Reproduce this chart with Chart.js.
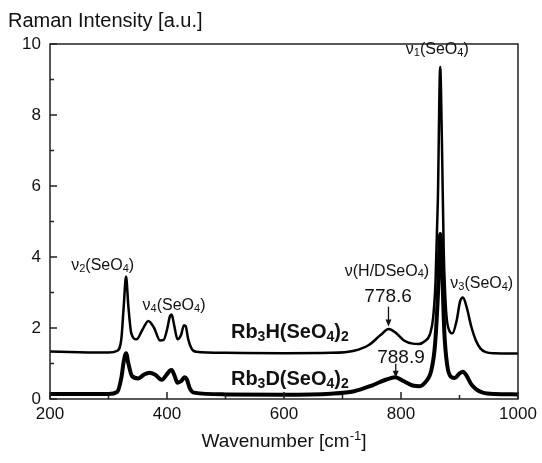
<!DOCTYPE html>
<html>
<head>
<meta charset="utf-8">
<script src="https://cdn.jsdelivr.net/npm/chart.js@4"></script>
<style>
html,body{margin:0;padding:0;background:#fff;}
#wrap{width:542px;height:463px;position:relative;}
</style>
</head>
<body>
<div id="wrap"><canvas id="c" width="542" height="463"></canvas></div>
<script>
// ---- data ----
const wnH = [200,250,300,315,322,326,330,334,339,348,358,368,378,388,394,400,405,408,412,418,424,429,432,436,442,450,500,600,680,720,745,765,779,790,805,820,830,840,850,855,859,863,867,870,873,877,882,888,895,901,906,912,920,928,936,945,960,1000];
const intH = [1.34,1.32,1.31,1.36,1.7,2.6,3.45,2.6,1.85,1.68,1.95,2.2,2.0,1.65,1.66,1.95,2.33,2.38,2.1,1.68,1.8,2.08,2.05,1.7,1.42,1.33,1.30,1.29,1.30,1.36,1.52,1.8,1.97,1.88,1.65,1.56,1.55,1.62,1.85,2.3,3.3,5.6,9.35,7.2,4.2,2.5,1.95,1.85,2.2,2.75,2.86,2.6,2.05,1.65,1.42,1.32,1.29,1.28];
const wnD = [200,300,315,322,326,330,334,340,351,360,370,380,391,400,405,408,413,418,424,430,434,439,446,500,600,680,720,750,775,790,805,820,832,842,852,858,863,867,870,874,879,885,892,900,906,912,920,928,940,960,1000];
const intD = [0.14,0.14,0.2,0.6,1.05,1.29,1.0,0.65,0.58,0.68,0.74,0.68,0.54,0.7,0.8,0.82,0.65,0.46,0.5,0.61,0.55,0.3,0.18,0.13,0.12,0.15,0.22,0.38,0.55,0.61,0.5,0.38,0.36,0.48,0.82,1.5,2.9,4.65,3.8,1.9,0.95,0.63,0.59,0.72,0.77,0.66,0.42,0.28,0.18,0.14,0.13];
const xTicks = [200,400,600,800,1000];
const yTicks = [0,2,4,6,8,10];
const seriesNames = ['Rb3H(SeO4)2','Rb3D(SeO4)2'];
const peakH = 778.6, peakD = 788.9;

// ---- annotation layout (positions in data units) ----
const FONT = '"Liberation Sans", Arial, Helvetica, sans-serif';
const notes = [
  {parts:[['ν'],['1',1],['(SeO'],['4',1],[')']], x:862, y:9.85, size:16},
  {parts:[['ν'],['2',1],['(SeO'],['4',1],[')']], x:290, y:3.75, size:16},
  {parts:[['ν'],['4',1],['(SeO'],['4',1],[')']], x:412, y:2.62, size:16},
  {parts:[['ν(H/DSeO'],['4',1],[')']], x:776, y:3.6, size:16},
  {parts:[['ν'],['3',1],['(SeO'],['4',1],[')']], x:938, y:3.25, size:16},
  {parts:[[String(peakH)]], x:778, y:2.88, size:19},
  {parts:[[String(peakD)]], x:800, y:1.15, size:19},
  {parts:[['Rb'],['3',1],['H(SeO'],['4',1],[')'],['2',1]], x:610, y:1.86, size:20, bold:true},
  {parts:[['Rb'],['3',1],['D(SeO'],['4',1],[')'],['2',1]], x:610, y:0.54, size:20, bold:true}
];
const arrows = [
  {x:peakH, y1:2.6, y2:2.04},
  {x:791, y1:0.99, y2:0.6}
];

function drawRich(ctx, parts, x, y, size, bold, align){
  const b = bold ? 'bold ' : '';
  const fs = p => (p[1] ? Math.round(size*0.7) : size);
  let total = 0;
  const w = parts.map(p=>{
    ctx.font = b + fs(p) + 'px ' + FONT;
    const m = ctx.measureText(p[0]).width; total += m; return m;
  });
  let cx = align==='left' ? x : x - total/2;
  ctx.textBaseline = 'middle'; ctx.textAlign = 'left';
  parts.forEach((p,i)=>{
    let dy = 0;
    if (p[1]===1) dy = size*0.2;
    if (p[1]===2) dy = -size*0.3;
    ctx.font = b + fs(p) + 'px ' + FONT;
    ctx.fillText(p[0], cx, y+dy);
    cx += w[i];
  });
}

const decor = {
  id:'decor',
  afterDatasetsDraw(chart){
    const ctx = chart.ctx, xs = chart.scales.x, ys = chart.scales.y, a = chart.chartArea;
    ctx.save();
    ctx.strokeStyle = '#222'; ctx.lineWidth = 1.5;
    ctx.strokeRect(a.left, a.top, a.right-a.left, a.bottom-a.top);
    ctx.beginPath();
    for (let v=200; v<=1000; v+=100){
      const px = xs.getPixelForValue(v);
      const L = (v%200===0) ? 7 : 4;
      ctx.moveTo(px, a.bottom); ctx.lineTo(px, a.bottom-L);
    }
    for (let v=0; v<=10; v+=1){
      const py = ys.getPixelForValue(v);
      const L = (v%2===0) ? 7 : 4;
      ctx.moveTo(a.left, py); ctx.lineTo(a.left+L, py);
    }
    ctx.stroke();
    ctx.fillStyle = '#111';
    notes.forEach(n=>{
      drawRich(ctx, n.parts, xs.getPixelForValue(n.x), ys.getPixelForValue(n.y), n.size, n.bold, 'center');
    });
    ctx.strokeStyle = '#111'; ctx.lineWidth = 1.3;
    arrows.forEach(ar=>{
      const px = xs.getPixelForValue(ar.x), p1 = ys.getPixelForValue(ar.y1), p2 = ys.getPixelForValue(ar.y2);
      ctx.beginPath(); ctx.moveTo(px,p1); ctx.lineTo(px,p2-3); ctx.stroke();
      ctx.beginPath(); ctx.moveTo(px,p2); ctx.lineTo(px-3,p2-7); ctx.lineTo(px+3,p2-7); ctx.closePath(); ctx.fill();
    });
    drawRich(ctx, [['Raman Intensity [a.u.]']], 8, 21, 20, false, 'left');
    drawRich(ctx, [['Wavenumber [cm'],['-1',2],[']']], (a.left+a.right)/2, 442, 19, false, 'center');
    ctx.restore();
  }
};

new Chart(document.getElementById('c'), {
  type:'line',
  data:{
    datasets:[
      {label:seriesNames[0], data:wnH.map((x,i)=>({x, y:intH[i]})), borderColor:'#000', borderWidth:2.5, pointRadius:0, cubicInterpolationMode:'monotone', fill:false},
      {label:seriesNames[1], data:wnD.map((x,i)=>({x, y:intD[i]})), borderColor:'#000', borderWidth:4, pointRadius:0, cubicInterpolationMode:'monotone', fill:false}
    ]
  },
  options:{
    responsive:false, animation:false, devicePixelRatio:1,
    layout:{padding:{left:0, right:24, top:44, bottom:0}},
    plugins:{legend:{display:false}, tooltip:{enabled:false}},
    scales:{
      x:{type:'linear', min:200, max:1000,
        afterBuildTicks:s=>{s.ticks = xTicks.map(v=>({value:v}));},
        afterFit:s=>{s.height = 64;},
        grid:{display:false, drawTicks:false}, border:{display:false},
        ticks:{padding:5, color:'#111', font:{size:17, family:FONT}, maxRotation:0, callback:v=>String(v)}},
      y:{type:'linear', min:0, max:10,
        afterBuildTicks:s=>{s.ticks = yTicks.map(v=>({value:v}));},
        afterFit:s=>{s.width = 50;},
        grid:{display:false, drawTicks:false}, border:{display:false},
        ticks:{padding:9, color:'#111', font:{size:17, family:FONT}, callback:v=>String(v)}}
    }
  },
  plugins:[decor]
});
</script>
</body>
</html>
